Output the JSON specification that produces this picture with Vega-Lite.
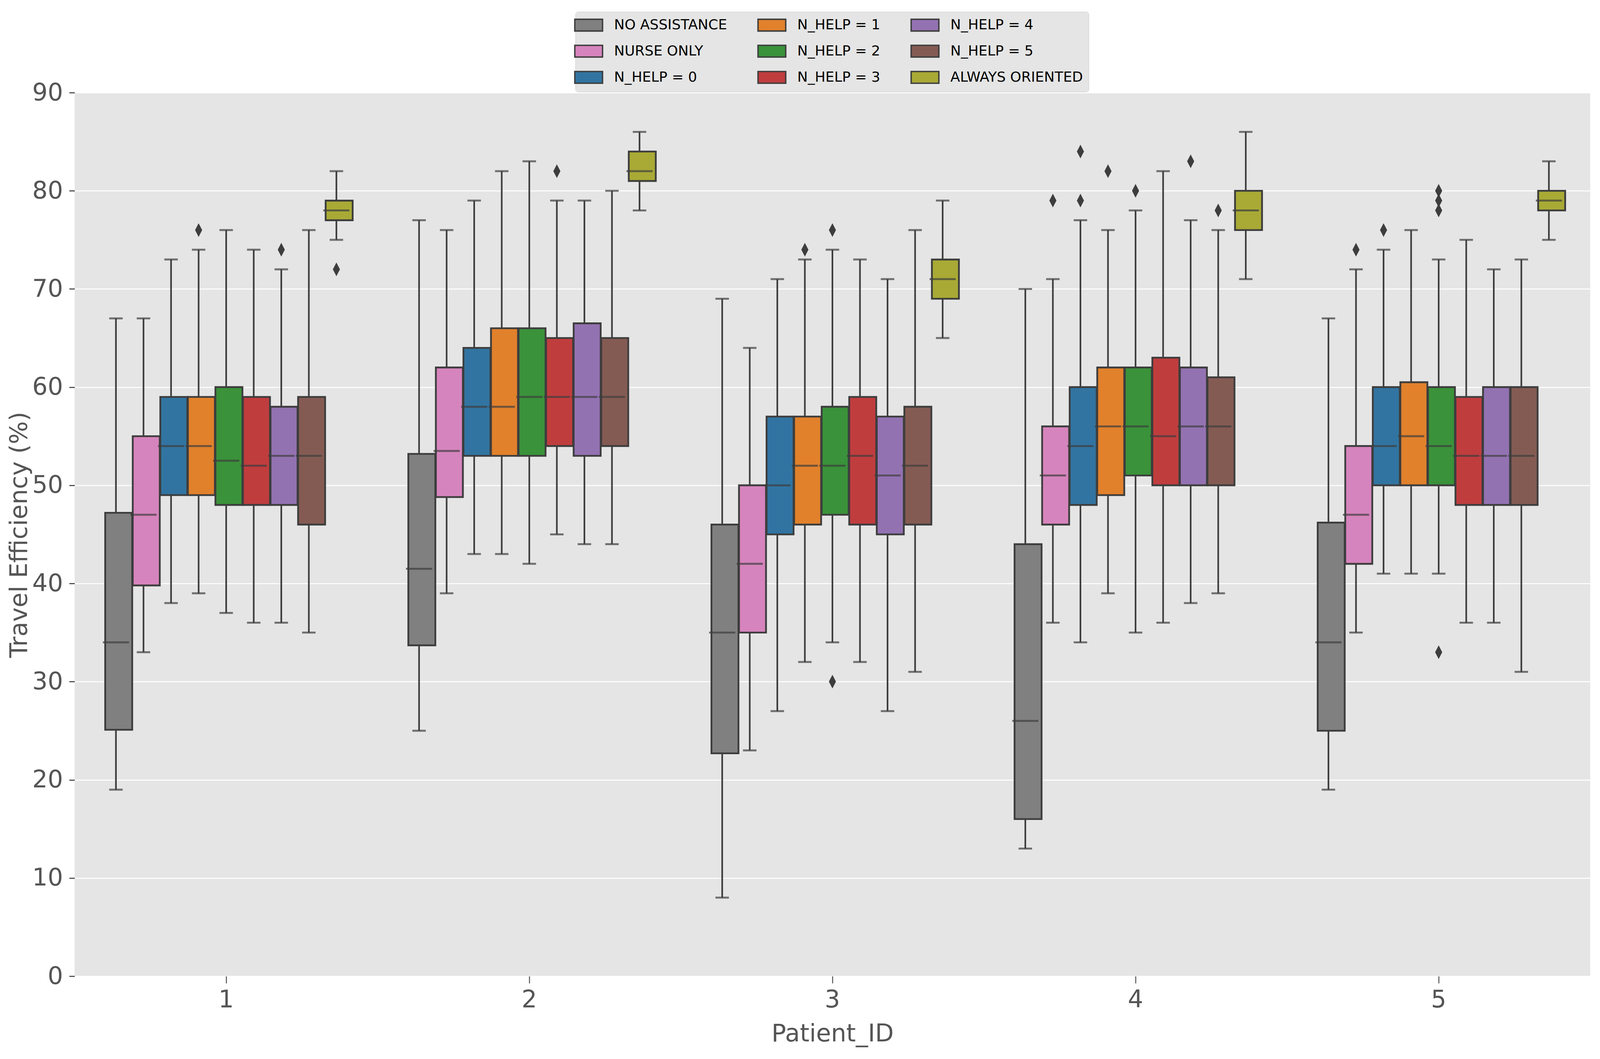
{
  "$schema": "https://vega.github.io/schema/vega-lite/v6.json",
  "autosize": {"type": "none"},
  "padding": {"left": 191, "top": 237, "right": 26, "bottom": 212},
  "width": 3880,
  "height": 2261,
  "config": {
    "background": "white",
    "font": "DejaVu Sans",
    "view": {"fill": "#e5e5e5", "stroke": null},
    "axis": {
      "domain": false,
      "labelFont": "DejaVu Sans",
      "labelFontSize": 62,
      "labelColor": "#555555",
      "titleFont": "DejaVu Sans",
      "titleFontSize": 62,
      "titleFontWeight": "normal",
      "titleColor": "#555555",
      "tickColor": "#555555"
    }
  },
  "datasets": {
    "boxes": [
      {"Patient_ID": 1, "Condition": "NO ASSISTANCE", "lo": 19, "q1": 25.1, "median": 34, "q3": 47.2, "hi": 67},
      {"Patient_ID": 1, "Condition": "NURSE ONLY", "lo": 33, "q1": 39.8, "median": 47, "q3": 55, "hi": 67},
      {"Patient_ID": 1, "Condition": "N_HELP = 0", "lo": 38, "q1": 49, "median": 54, "q3": 59, "hi": 73},
      {"Patient_ID": 1, "Condition": "N_HELP = 1", "lo": 39, "q1": 49, "median": 54, "q3": 59, "hi": 74},
      {"Patient_ID": 1, "Condition": "N_HELP = 2", "lo": 37, "q1": 48, "median": 52.5, "q3": 60, "hi": 76},
      {"Patient_ID": 1, "Condition": "N_HELP = 3", "lo": 36, "q1": 48, "median": 52, "q3": 59, "hi": 74},
      {"Patient_ID": 1, "Condition": "N_HELP = 4", "lo": 36, "q1": 48, "median": 53, "q3": 58, "hi": 72},
      {"Patient_ID": 1, "Condition": "N_HELP = 5", "lo": 35, "q1": 46, "median": 53, "q3": 59, "hi": 76},
      {"Patient_ID": 1, "Condition": "ALWAYS ORIENTED", "lo": 75, "q1": 77, "median": 78, "q3": 79, "hi": 82},
      {"Patient_ID": 2, "Condition": "NO ASSISTANCE", "lo": 25, "q1": 33.7, "median": 41.5, "q3": 53.2, "hi": 77},
      {"Patient_ID": 2, "Condition": "NURSE ONLY", "lo": 39, "q1": 48.8, "median": 53.5, "q3": 62, "hi": 76},
      {"Patient_ID": 2, "Condition": "N_HELP = 0", "lo": 43, "q1": 53, "median": 58, "q3": 64, "hi": 79},
      {"Patient_ID": 2, "Condition": "N_HELP = 1", "lo": 43, "q1": 53, "median": 58, "q3": 66, "hi": 82},
      {"Patient_ID": 2, "Condition": "N_HELP = 2", "lo": 42, "q1": 53, "median": 59, "q3": 66, "hi": 83},
      {"Patient_ID": 2, "Condition": "N_HELP = 3", "lo": 45, "q1": 54, "median": 59, "q3": 65, "hi": 79},
      {"Patient_ID": 2, "Condition": "N_HELP = 4", "lo": 44, "q1": 53, "median": 59, "q3": 66.5, "hi": 79},
      {"Patient_ID": 2, "Condition": "N_HELP = 5", "lo": 44, "q1": 54, "median": 59, "q3": 65, "hi": 80},
      {"Patient_ID": 2, "Condition": "ALWAYS ORIENTED", "lo": 78, "q1": 81, "median": 82, "q3": 84, "hi": 86},
      {"Patient_ID": 3, "Condition": "NO ASSISTANCE", "lo": 8, "q1": 22.7, "median": 35, "q3": 46, "hi": 69},
      {"Patient_ID": 3, "Condition": "NURSE ONLY", "lo": 23, "q1": 35, "median": 42, "q3": 50, "hi": 64},
      {"Patient_ID": 3, "Condition": "N_HELP = 0", "lo": 27, "q1": 45, "median": 50, "q3": 57, "hi": 71},
      {"Patient_ID": 3, "Condition": "N_HELP = 1", "lo": 32, "q1": 46, "median": 52, "q3": 57, "hi": 73},
      {"Patient_ID": 3, "Condition": "N_HELP = 2", "lo": 34, "q1": 47, "median": 52, "q3": 58, "hi": 74},
      {"Patient_ID": 3, "Condition": "N_HELP = 3", "lo": 32, "q1": 46, "median": 53, "q3": 59, "hi": 73},
      {"Patient_ID": 3, "Condition": "N_HELP = 4", "lo": 27, "q1": 45, "median": 51, "q3": 57, "hi": 71},
      {"Patient_ID": 3, "Condition": "N_HELP = 5", "lo": 31, "q1": 46, "median": 52, "q3": 58, "hi": 76},
      {"Patient_ID": 3, "Condition": "ALWAYS ORIENTED", "lo": 65, "q1": 69, "median": 71, "q3": 73, "hi": 79},
      {"Patient_ID": 4, "Condition": "NO ASSISTANCE", "lo": 13, "q1": 16, "median": 26, "q3": 44, "hi": 70},
      {"Patient_ID": 4, "Condition": "NURSE ONLY", "lo": 36, "q1": 46, "median": 51, "q3": 56, "hi": 71},
      {"Patient_ID": 4, "Condition": "N_HELP = 0", "lo": 34, "q1": 48, "median": 54, "q3": 60, "hi": 77},
      {"Patient_ID": 4, "Condition": "N_HELP = 1", "lo": 39, "q1": 49, "median": 56, "q3": 62, "hi": 76},
      {"Patient_ID": 4, "Condition": "N_HELP = 2", "lo": 35, "q1": 51, "median": 56, "q3": 62, "hi": 78},
      {"Patient_ID": 4, "Condition": "N_HELP = 3", "lo": 36, "q1": 50, "median": 55, "q3": 63, "hi": 82},
      {"Patient_ID": 4, "Condition": "N_HELP = 4", "lo": 38, "q1": 50, "median": 56, "q3": 62, "hi": 77},
      {"Patient_ID": 4, "Condition": "N_HELP = 5", "lo": 39, "q1": 50, "median": 56, "q3": 61, "hi": 76},
      {"Patient_ID": 4, "Condition": "ALWAYS ORIENTED", "lo": 71, "q1": 76, "median": 78, "q3": 80, "hi": 86},
      {"Patient_ID": 5, "Condition": "NO ASSISTANCE", "lo": 19, "q1": 25, "median": 34, "q3": 46.2, "hi": 67},
      {"Patient_ID": 5, "Condition": "NURSE ONLY", "lo": 35, "q1": 42, "median": 47, "q3": 54, "hi": 72},
      {"Patient_ID": 5, "Condition": "N_HELP = 0", "lo": 41, "q1": 50, "median": 54, "q3": 60, "hi": 74},
      {"Patient_ID": 5, "Condition": "N_HELP = 1", "lo": 41, "q1": 50, "median": 55, "q3": 60.5, "hi": 76},
      {"Patient_ID": 5, "Condition": "N_HELP = 2", "lo": 41, "q1": 50, "median": 54, "q3": 60, "hi": 73},
      {"Patient_ID": 5, "Condition": "N_HELP = 3", "lo": 36, "q1": 48, "median": 53, "q3": 59, "hi": 75},
      {"Patient_ID": 5, "Condition": "N_HELP = 4", "lo": 36, "q1": 48, "median": 53, "q3": 60, "hi": 72},
      {"Patient_ID": 5, "Condition": "N_HELP = 5", "lo": 31, "q1": 48, "median": 53, "q3": 60, "hi": 73},
      {"Patient_ID": 5, "Condition": "ALWAYS ORIENTED", "lo": 75, "q1": 78, "median": 79, "q3": 80, "hi": 83}
    ],
    "outliers": [
      {"Patient_ID": 1, "Condition": "N_HELP = 1", "value": 76},
      {"Patient_ID": 1, "Condition": "N_HELP = 4", "value": 74},
      {"Patient_ID": 1, "Condition": "ALWAYS ORIENTED", "value": 72},
      {"Patient_ID": 2, "Condition": "N_HELP = 3", "value": 82},
      {"Patient_ID": 3, "Condition": "N_HELP = 1", "value": 74},
      {"Patient_ID": 3, "Condition": "N_HELP = 2", "value": 76},
      {"Patient_ID": 3, "Condition": "N_HELP = 2", "value": 30},
      {"Patient_ID": 4, "Condition": "NURSE ONLY", "value": 79},
      {"Patient_ID": 4, "Condition": "N_HELP = 0", "value": 79},
      {"Patient_ID": 4, "Condition": "N_HELP = 0", "value": 84},
      {"Patient_ID": 4, "Condition": "N_HELP = 1", "value": 82},
      {"Patient_ID": 4, "Condition": "N_HELP = 2", "value": 80},
      {"Patient_ID": 4, "Condition": "N_HELP = 4", "value": 83},
      {"Patient_ID": 4, "Condition": "N_HELP = 5", "value": 78},
      {"Patient_ID": 5, "Condition": "NURSE ONLY", "value": 74},
      {"Patient_ID": 5, "Condition": "N_HELP = 0", "value": 76},
      {"Patient_ID": 5, "Condition": "N_HELP = 2", "value": 78},
      {"Patient_ID": 5, "Condition": "N_HELP = 2", "value": 79},
      {"Patient_ID": 5, "Condition": "N_HELP = 2", "value": 80},
      {"Patient_ID": 5, "Condition": "N_HELP = 2", "value": 33}
    ]
  },
  "data": {"name": "boxes"},
  "encoding": {
    "x": {
      "field": "Patient_ID",
      "type": "ordinal",
      "title": "Patient_ID",
      "scale": {"paddingInner": 0, "paddingOuter": 0},
      "axis": {
        "labelAngle": 0,
        "grid": false,
        "tickSize": 18,
        "tickWidth": 2.5,
        "labelPadding": 12,
        "titleBaseline": "alphabetic",
        "titleY": 166
      }
    },
    "xOffset": {
      "field": "Condition",
      "type": "nominal",
      "scale": {
        "domain": ["NO ASSISTANCE", "NURSE ONLY", "N_HELP = 0", "N_HELP = 1", "N_HELP = 2", "N_HELP = 3", "N_HELP = 4", "N_HELP = 5", "ALWAYS ORIENTED"],
        "paddingInner": 0,
        "paddingOuter": 1.125
      }
    }
  },
  "layer": [
    {
      "mark": {"type": "rule", "color": "#3d3d3d", "strokeWidth": 4.2},
      "encoding": {
        "y": {
          "field": "lo",
          "type": "quantitative",
          "title": "Travel Efficiency (%)",
          "scale": {"domain": [0, 90], "nice": false},
          "axis": {
            "values": [0, 10, 20, 30, 40, 50, 60, 70, 80, 90],
            "grid": true,
            "gridColor": "white",
            "gridWidth": 2.5,
            "tickSize": 14,
            "tickWidth": 3,
            "labelPadding": 16,
            "titleBaseline": "alphabetic",
            "titleX": -123,
            "titleY": 1131
          }
        },
        "y2": {"field": "hi"}
      }
    },
    {
      "mark": {"type": "tick", "color": "#3d3d3d", "size": 34.5, "thickness": 5},
      "encoding": {"y": {"field": "lo", "type": "quantitative"}}
    },
    {
      "mark": {"type": "tick", "color": "#3d3d3d", "size": 34.5, "thickness": 5},
      "encoding": {"y": {"field": "hi", "type": "quantitative"}}
    },
    {
      "mark": {"type": "bar", "stroke": "#3d3d3d", "strokeWidth": 4.6, "width": {"band": 0.98}, "opacity": 1},
      "encoding": {
        "y": {"field": "q1", "type": "quantitative"},
        "y2": {"field": "q3"},
        "color": {
          "field": "Condition",
          "type": "nominal",
          "scale": {
            "domain": ["NO ASSISTANCE", "NURSE ONLY", "N_HELP = 0", "N_HELP = 1", "N_HELP = 2", "N_HELP = 3", "N_HELP = 4", "N_HELP = 5", "ALWAYS ORIENTED"],
            "range": ["#808080", "#d684bd", "#3274a1", "#e1812c", "#3a923a", "#c03d3e", "#9372b2", "#845b53", "#a9aa35"]
          },
          "legend": {
            "title": null,
            "orient": "none",
            "direction": "vertical",
            "legendX": 1282,
            "legendY": -207,
            "columns": 3,
            "columnPadding": 71,
            "rowPadding": 21,
            "padding": 14,
            "fillColor": "#e5e5e5",
            "strokeColor": "#cccccc",
            "cornerRadius": 7,
            "labelFont": "DejaVu Sans",
            "labelFontSize": 36,
            "labelColor": "black",
            "labelLimit": 1000,
            "labelOffset": 45,
            "symbolType": "M-2,-0.845L2,-0.845L2,0.845L-2,0.845Z",
            "symbolSize": 1260,
            "symbolStrokeColor": "#3d3d3d",
            "symbolStrokeWidth": 3.6,
            "symbolOpacity": 1
          }
        }
      }
    },
    {
      "mark": {"type": "tick", "color": "#3d3d3d", "size": 67, "thickness": 5},
      "encoding": {"y": {"field": "median", "type": "quantitative"}}
    },
    {
      "data": {"name": "outliers"},
      "mark": {"type": "point", "shape": "M0,-1L0.52,0L0,1L-0.52,0Z", "filled": true, "color": "#3d3d3d", "size": 1225, "opacity": 1},
      "encoding": {"y": {"field": "value", "type": "quantitative"}}
    }
  ]
}
